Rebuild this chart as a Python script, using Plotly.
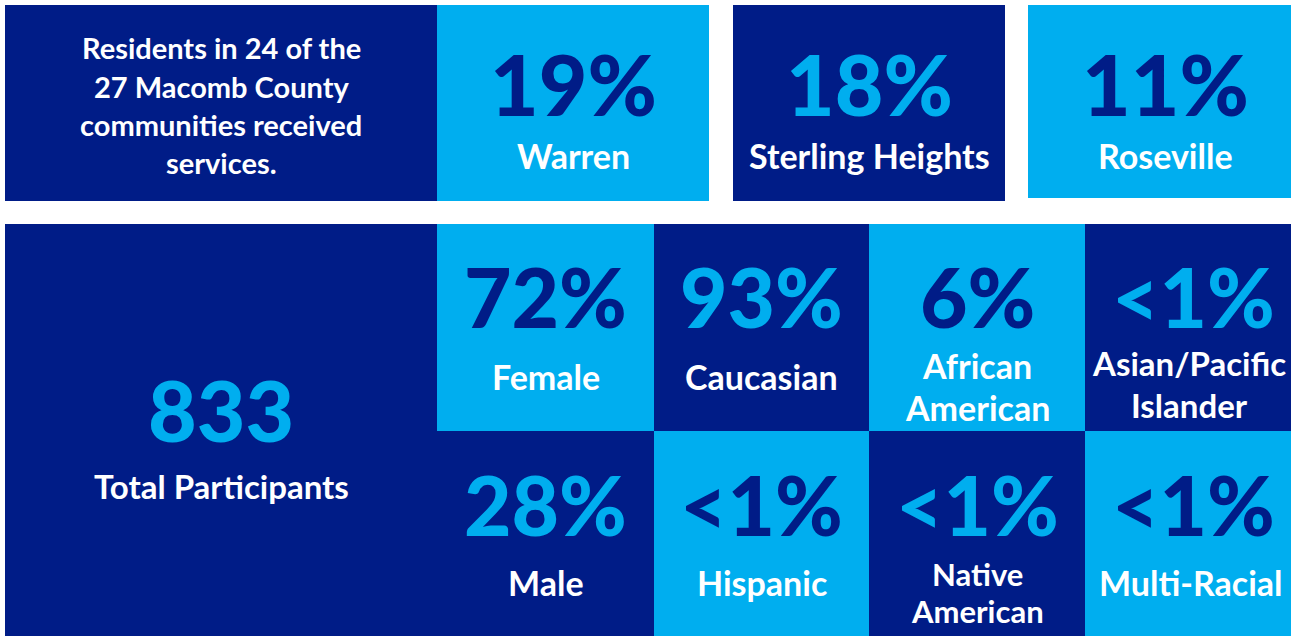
import plotly.graph_objects as go

# ---------------- data ----------------
intro_lines = ["Residents in 24 of the", "27 Macomb County", "communities received", "services."]
city_values = ["19%", "18%", "11%"]
city_names = ["Warren", "Sterling Heights", "Roseville"]
total_value = "833"
total_label = "Total Participants"
demo_values = ["72%", "93%", "6%", "<1%", "28%", "<1%", "<1%", "<1%"]
demo_labels = [["Female"], ["Caucasian"], ["African", "American"], ["Asian/Pacific", "Islander"],
               ["Male"], ["Hispanic"], ["Native", "American"], ["Multi-Racial"]]

# ---------------- layout / style ----------------
W, H = 1291, 636
DARK = "#001C87"
LIGHT = "#00AEEF"
WHITE = "#FFFFFF"
FONT = "Lato"

intro_box = (5, 437, 5, 201)
intro_line_y = [47, 86, 124, 162]
city_boxes = [(437, 709, 5, 201), (733, 1005, 5, 201), (1028, 1302, 5, 198)]
city_fill = [LIGHT, DARK, LIGHT]
city_num_y, city_lbl_y = 83, 155
total_box = (5, 437, 224, 636)
total_num_y, total_lbl_y = 409, 486
col_edges = [437, 654, 869, 1085, 1301]
row_edges = [224, 431, 636]
row_num_y = [296, 504]
# label centre / size / line gap / x-shift per cell
cell_lbl_y = [376, 376, 386, 384, 582, 582, 592, 582]
cell_lbl_size = [34, 34, 34, 33, 34, 34, 31, 34]
cell_line_gap = [0, 0, 42, 42, 0, 0, 37, 0]
cell_dx = [0, 0, 0, -4, 0, 0, 0, -2]

NUM_SIZE = 82
LBL_SIZE = 34

fig = go.Figure()
shapes, annots = [], []


def rect(x0, x1, y0, y1, color):
    shapes.append(dict(type="rect", xref="x", yref="y", x0=x0, x1=x1, y0=y0, y1=y1,
                       fillcolor=color, line=dict(width=0), layer="below"))


def text(x, y, s, size, color, weight=700):
    annots.append(dict(x=x, y=y, xref="x", yref="y", text=s, showarrow=False,
                       xanchor="center", yanchor="middle", borderpad=0,
                       font=dict(family=FONT, size=size, color=color, weight=weight)))


# intro tile
x0, x1, y0, y1 = intro_box
rect(x0, x1, y0, y1, DARK)
for ly, line in zip(intro_line_y, intro_lines):
    text((x0 + x1) / 2, ly, line, 29, WHITE)

# city tiles
for (x0, x1, y0, y1), fill, val, name in zip(city_boxes, city_fill, city_values, city_names):
    rect(x0, x1, y0, y1, fill)
    num_color = DARK if fill == LIGHT else LIGHT
    text((x0 + x1) / 2, city_num_y, val, NUM_SIZE + 2, num_color, 900)
    text((x0 + x1) / 2, city_lbl_y, name, LBL_SIZE, WHITE)

# total tile
x0, x1, y0, y1 = total_box
rect(x0, x1, y0, y1, DARK)
text((x0 + x1) / 2, total_num_y, total_value, NUM_SIZE + 2, LIGHT, 900)
text((x0 + x1) / 2, total_lbl_y, total_label, 33, WHITE)

# demographic grid
for i, (val, lbl) in enumerate(zip(demo_values, demo_labels)):
    r, c = divmod(i, 4)
    fill = LIGHT if (r + c) % 2 == 0 else DARK
    num_color = DARK if fill == LIGHT else LIGHT
    cx0, cx1 = col_edges[c], col_edges[c + 1]
    ry0, ry1 = row_edges[r], row_edges[r + 1]
    rect(cx0, cx1, ry0, ry1, fill)
    cx = (cx0 + cx1) / 2
    text(cx, row_num_y[r], val, NUM_SIZE, num_color, 900)
    n = len(lbl)
    for k, line in enumerate(lbl):
        ly = cell_lbl_y[i] + (k - (n - 1) / 2) * cell_line_gap[i]
        text(cx + cell_dx[i], ly, line, cell_lbl_size[i], WHITE)

fig.update_layout(
    width=W, height=H, margin=dict(l=0, r=0, t=0, b=0),
    paper_bgcolor=WHITE, plot_bgcolor=WHITE,
    xaxis=dict(range=[0, W], visible=False, fixedrange=True),
    yaxis=dict(range=[H, 0], visible=False, fixedrange=True),
    shapes=shapes, annotations=annots, showlegend=False,
)

fig.write_html("out.html", config={"displayModeBar": False},
               post_script="document.body.style.margin='0';document.body.style.overflow='hidden';")
